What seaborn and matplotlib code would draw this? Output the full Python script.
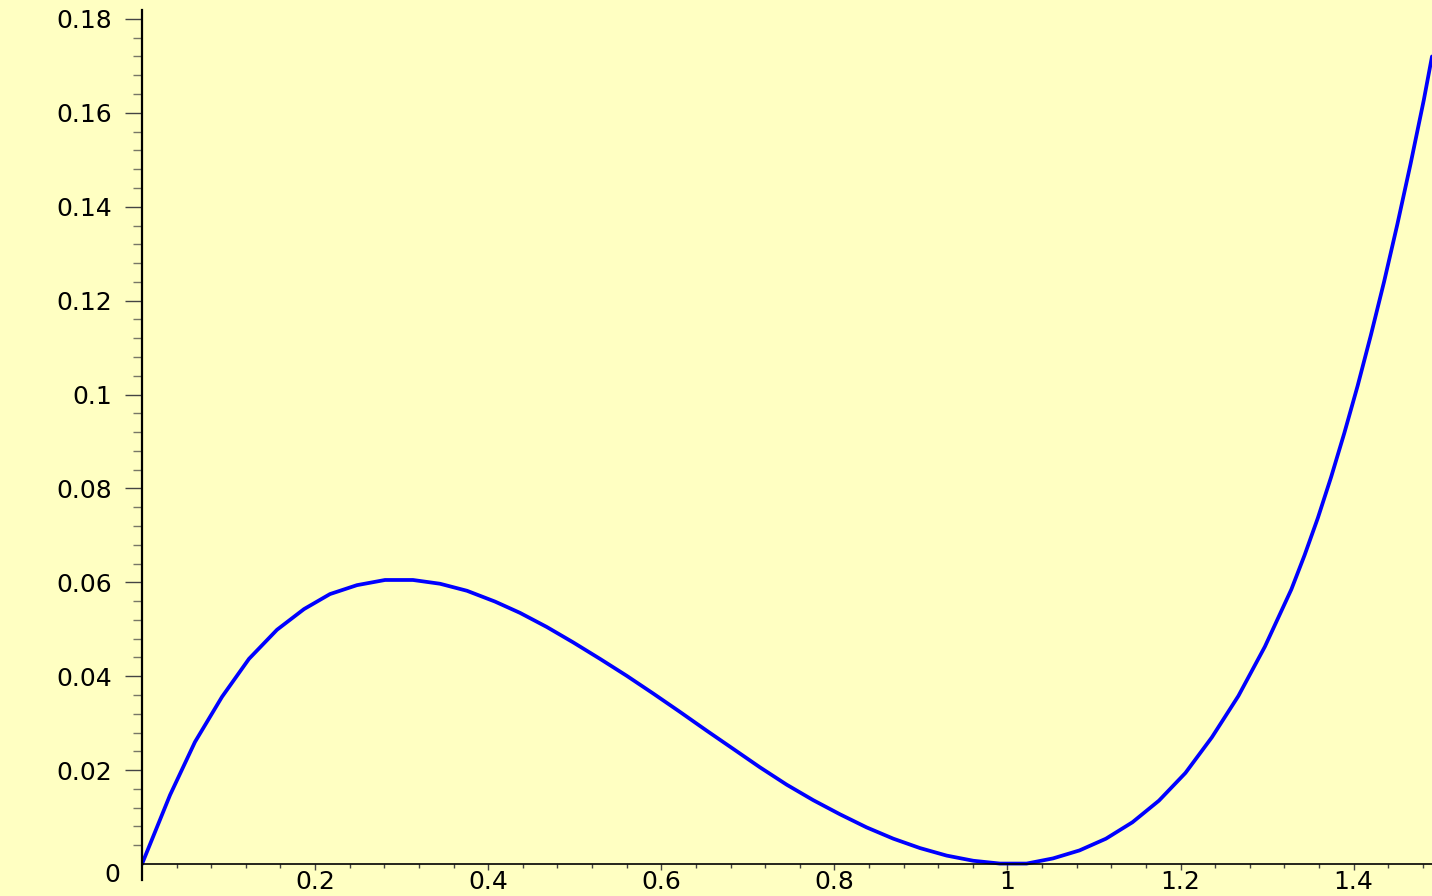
import matplotlib
matplotlib.use("Agg")
import matplotlib.pyplot as plt
import seaborn as sns
import pandas as pd

# ---- data ----
x_values = [0.0000, 0.0324, 0.0612, 0.0924, 0.1236, 0.1560, 0.1872, 0.2172, 0.2484,
            0.2808, 0.3131, 0.3443, 0.3755, 0.4079, 0.4367, 0.4676, 0.4983, 0.5292,
            0.5600, 0.5908, 0.6216, 0.6525, 0.6833, 0.7140, 0.7449, 0.7756, 0.8064,
            0.8373, 0.8681, 0.8989, 0.9297, 0.9605, 0.9913, 1.0221, 1.0526, 1.0832,
            1.1138, 1.1444, 1.1750, 1.2056, 1.2362, 1.2668, 1.2974, 1.3280, 1.3433,
            1.3586, 1.3739, 1.3892, 1.4045, 1.4198, 1.4351, 1.4504, 1.4657, 1.4810,
            1.4905]
y_values = [0.0000, 0.0147, 0.0260, 0.0356, 0.0437, 0.0499, 0.0543, 0.0575, 0.0594,
            0.0605, 0.0605, 0.0597, 0.0582, 0.0559, 0.0535, 0.0505, 0.0472, 0.0437,
            0.0401, 0.0363, 0.0324, 0.0284, 0.0245, 0.0206, 0.0169, 0.0136, 0.0106,
            0.0078, 0.0054, 0.0034, 0.0018, 0.0007, 0.0001, 0.0001, 0.0012, 0.0029,
            0.0054, 0.0089, 0.0135, 0.0194, 0.0270, 0.0358, 0.0463, 0.0585, 0.0658,
            0.0737, 0.0824, 0.0918, 0.1018, 0.1126, 0.1240, 0.1362, 0.1491, 0.1627,
            0.1720]

x_ticks = [0.2, 0.4, 0.6, 0.8, 1.0, 1.2, 1.4]
x_tick_labels = ["0.2", "0.4", "0.6", "0.8", "1", "1.2", "1.4"]
y_ticks = [0.02, 0.04, 0.06, 0.08, 0.10, 0.12, 0.14, 0.16, 0.18]
y_tick_labels = ["0.02", "0.04", "0.06", "0.08", "0.1", "0.12", "0.14", "0.16", "0.18"]
origin_label = "0"

BG = "#FFFFC2"

sns.set_style("white")
plt.rcParams["font.family"] = ["DejaVu Sans"]

fig = plt.figure(figsize=(14.32, 8.96), dpi=100, facecolor=BG)
ax = fig.add_axes([142 / 1432, 16 / 896, 1 - 142 / 1432, 870 / 896])
ax.set_facecolor(BG)

df = pd.DataFrame({"x": x_values, "y": y_values})
sns.lineplot(data=df, x="x", y="y", ax=ax, color="#0000FF", linewidth=2.7,
             sort=False, estimator=None)

ax.set_xlim(0, 1.4905)
ax.set_ylim(-0.0034, 0.1819)

for s in ["top", "right"]:
    ax.spines[s].set_visible(False)
ax.spines["bottom"].set_position(("data", 0))
ax.spines["left"].set_position(("data", 0))
ax.spines["bottom"].set_color("black")
ax.spines["left"].set_color("black")
ax.spines["bottom"].set_linewidth(1.2)
ax.spines["left"].set_linewidth(1.6)

ax.set_xticks(x_ticks)
ax.set_xticklabels(x_tick_labels)
ax.set_yticks(y_ticks)
ax.set_yticklabels(y_tick_labels)
ax.set_xticks([i * 0.04 for i in range(1, 38) if i % 5 != 0], minor=True)
ax.set_yticks([i * 0.004 for i in range(1, 46) if i % 5 != 0], minor=True)

ax.tick_params(axis="y", which="major", direction="out", length=12.2, width=1.0,
               color="#444444", pad=9, labelsize=18, labelcolor="black", left=True)
ax.tick_params(axis="y", which="minor", direction="out", length=6.5, width=1.0,
               color="#777766", left=True)
ax.tick_params(axis="x", which="major", direction="out", length=4.3, width=1.0,
               color="#444444", pad=0, labelsize=18, labelcolor="black", bottom=True)
ax.tick_params(axis="x", which="minor", direction="out", length=2.8, width=1.0,
               color="#444444", bottom=True)

ax.set_xlabel("")
ax.set_ylabel("")

ax.annotate(origin_label, xy=(0, 0), xycoords="data", xytext=(-22, -11),
            textcoords="offset pixels", ha="right", va="center", fontsize=18,
            color="black")

fig.savefig("out.png", dpi=100, facecolor=BG)
